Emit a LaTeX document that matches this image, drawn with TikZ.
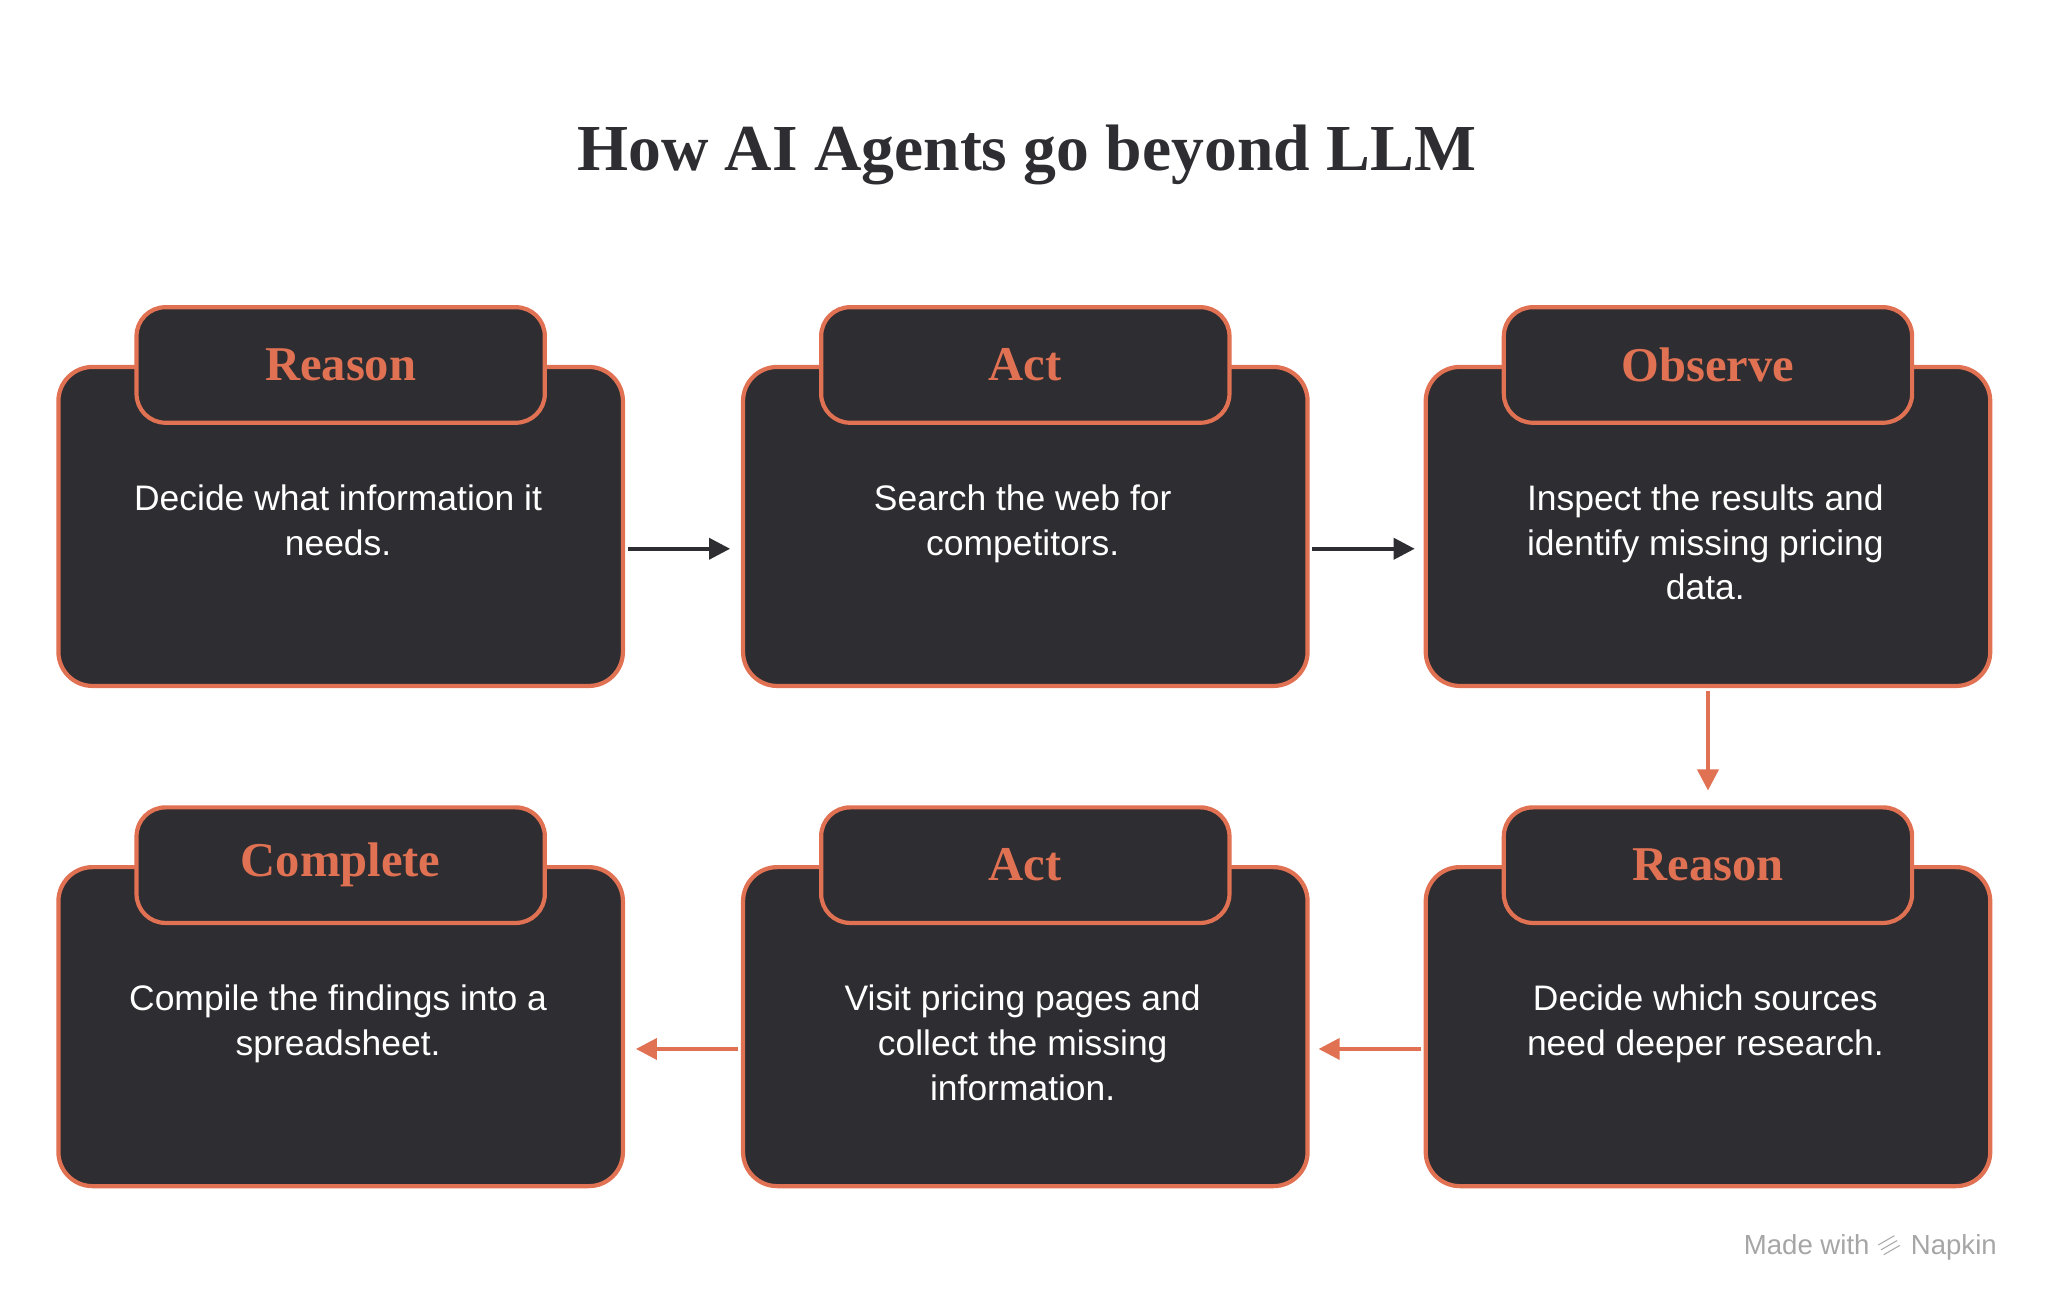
\documentclass[tikz,border=0pt]{standalone}
\usepackage{fontspec}
\setmainfont{Liberation Sans}
\newfontfamily\ttlfont{Liberation Serif}
\usetikzlibrary{arrows.meta}
\definecolor{org}{HTML}{E07152}
\definecolor{drk}{HTML}{2D2D32}
\begin{document}
\begin{tikzpicture}[x=0.5pt,y=-0.5pt,
 box/.style={draw=org,fill=drk,line width=1.6pt,rounded corners=13pt,minimum width=215pt,minimum height=121.5pt,inner sep=0pt},
 tab/.style={draw=org,fill=drk,line width=1.6pt,rounded corners=11pt,minimum width=155.5pt,minimum height=44pt,inner sep=0pt,font=\ttlfont\bfseries\fontsize{18.5}{22}\selectfont,text=org},
 body/.style={text=white,align=center,font=\fontsize{13.5}{17}\selectfont,anchor=north,inner sep=0pt},
 darr/.style={draw=drk,line width=1.4pt,-{Triangle[length=8pt,width=8pt]}},
 oarr/.style={draw=org,line width=1.4pt,-{Triangle[length=8pt,width=8pt]}}]
\useasboundingbox (0,0) rectangle (1560,992);
\fill[white] (0,0) rectangle (1560,992);
\node[font=\ttlfont\bfseries\fontsize{25}{29}\selectfont,text=drk] (title) at (782,118) {How AI Agents go beyond LLM};
\foreach \n/\x/\y/\t/\b in {
 a/259.5/401/Reason/{Decide what information it\\needs.},
 b/781/401/Act/{Search the web for\\competitors.},
 c/1301/401/Observe/{Inspect the results and\\identify missing pricing\\data.},
 d/1301/782/Reason/{Decide which sources\\need deeper research.},
 e/781/782/Act/{Visit pricing pages and\\collect the missing\\information.},
 f/259.5/782/Complete/{Compile the findings into a\\spreadsheet.}}{
 \node[box] (\n) at (\x,\y) {};
 \node[tab] (\n t) at (\x,\y-123) {\t};
 \node[body] (\n b) at (\x-2,\y-32) {\b};
}
\draw[darr] (a.east) ++(2,17) -- ++(78,0);
\draw[darr] (b.east) ++(2,17) -- ++(78,0);
\draw[oarr] (c.south) ++(0,2) -- ++(0,76);
\draw[oarr] (d.west) ++(-2,17) -- ++(-78,0);
\draw[oarr] (e.west) ++(-2,17) -- ++(-78,0);
\node[text=gray!70,font=\fontsize{10.5}{12}\selectfont,anchor=east] (wm) at (1528,950) {Made with \raisebox{-1pt}{\rotatebox{30}{$\equiv$}} Napkin};
\end{tikzpicture}
\end{document}
